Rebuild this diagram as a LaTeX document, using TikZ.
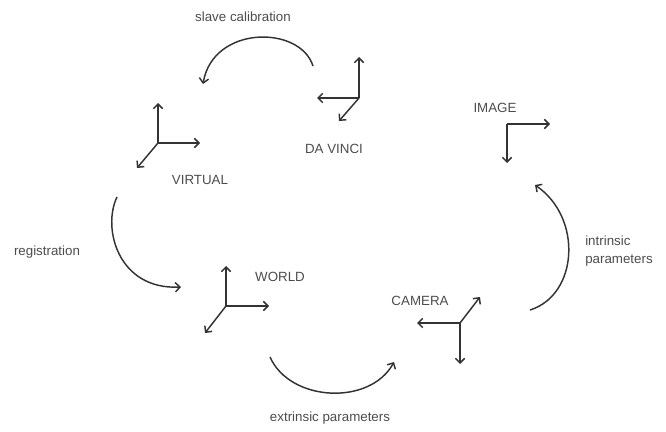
\documentclass[tikz,border=0pt]{standalone}
\usepackage{fontspec}
\setmainfont{Liberation Sans}
\usetikzlibrary{arrows.meta}
\begin{document}
\begin{tikzpicture}[x=0.75pt,y=-0.75pt,
  axis/.style={draw=black!80,line width=1.1pt,-{Straight Barb[length=3.5pt,width=7pt]}},
  flow/.style={draw=black!80,line width=1.1pt,-{Straight Barb[length=3.5pt,width=7pt]}},
  lbl/.style={text=black!70,font=\fontsize{10}{12}\selectfont,inner sep=0pt},
  txt/.style={text=black!70,font=\fontsize{10}{13.5}\selectfont,inner sep=0pt,align=left}]
\useasboundingbox (0,0) rectangle (666,431);
% VIRTUAL frame
\coordinate (vo) at (158,143);
\coordinate (vu) at (158,103);
\coordinate (vr) at (200,143);
\coordinate (vd) at (137,168);
\draw[axis] (vo) -- (vu);
\draw[axis] (vo) -- (vr);
\draw[axis] (vo) -- (vd);
\node[lbl] (virtual) at (200,180) {VIRTUAL};
% DA VINCI frame
\coordinate (dvo) at (359,98);
\coordinate (dvu) at (359,57);
\coordinate (dvl) at (317,98);
\coordinate (dvd) at (339,121);
\draw[axis] (dvo) -- (dvu);
\draw[axis] (dvo) -- (dvl);
\draw[axis] (dvo) -- (dvd);
\node[lbl] (davinci) at (334,149) {DA VINCI};
% IMAGE frame
\coordinate (io) at (507,124);
\coordinate (ir) at (550,124);
\coordinate (id) at (507,163);
\draw[axis] (io) -- (ir);
\draw[axis] (io) -- (id);
\node[lbl] (image) at (495,108) {IMAGE};
% CAMERA frame
\coordinate (co) at (460,323);
\coordinate (cl) at (417,323);
\coordinate (cd) at (460,364);
\coordinate (cu) at (480,297);
\draw[axis] (co) -- (cl);
\draw[axis] (co) -- (cd);
\draw[axis] (co) -- (cu);
\node[lbl] (camera) at (420,301) {CAMERA};
% WORLD frame
\coordinate (wo) at (226,306);
\coordinate (wu) at (226,266);
\coordinate (wr) at (269,306);
\coordinate (wd) at (205,333);
\draw[axis] (wo) -- (wu);
\draw[axis] (wo) -- (wr);
\draw[axis] (wo) -- (wd);
\node[lbl] (world) at (280,277) {WORLD};
% transformation arcs
\coordinate (s1) at (313,66);
\coordinate (s2) at (203,84);
\draw[flow] (s1) .. controls (300,25) and (213,25) .. (s2);
\node[lbl] (slave) at (243,17) {slave calibration};
\coordinate (r1) at (117,197);
\coordinate (r2) at (181,287);
\draw[flow] (r1) .. controls (102,228) and (118,290) .. (r2);
\node[lbl] (reg) at (47,252) {registration};
\coordinate (e1) at (270,357);
\coordinate (e2) at (394,362);
\draw[flow] (e1) .. controls (290,402) and (370,406) .. (e2);
\node[lbl] (ext) at (330,418) {extrinsic parameters};
\coordinate (n1) at (530,310);
\coordinate (n2) at (535,185);
\draw[flow] (n1) .. controls (578,295) and (583,218) .. (n2);
\node[txt,anchor=west] (intr) at (585,251) {intrinsic\\parameters};
\end{tikzpicture}
\end{document}
